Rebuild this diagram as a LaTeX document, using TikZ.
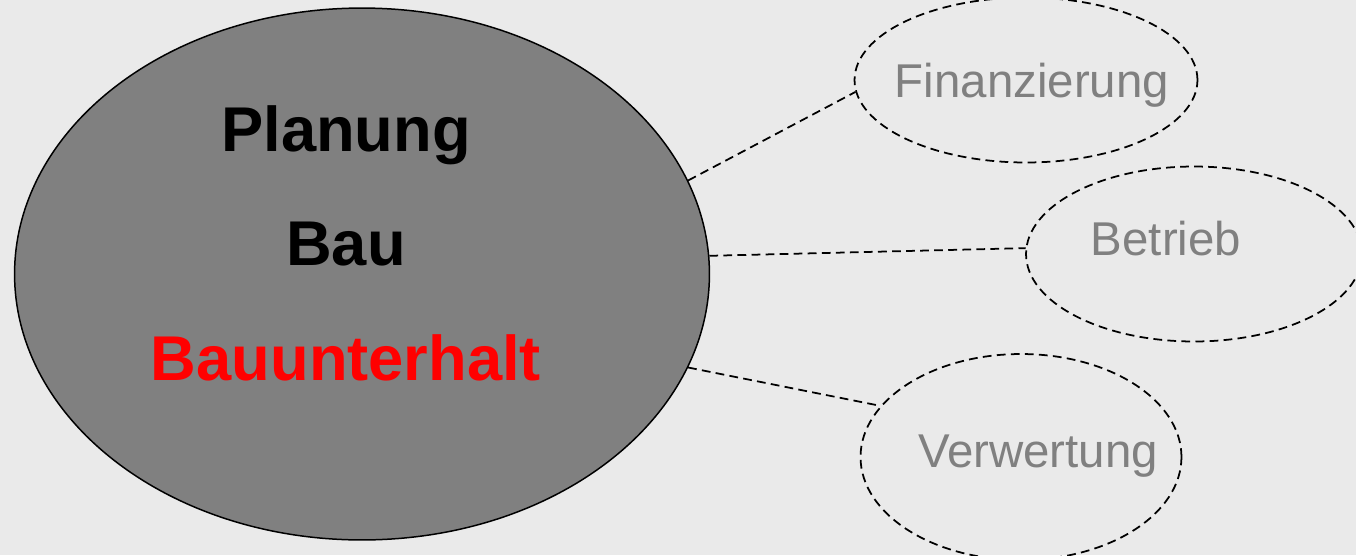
\documentclass[tikz,border=0pt]{standalone}
\usepackage{fontspec}
\setmainfont{Liberation Sans}
\usetikzlibrary{shapes.geometric}
\definecolor{hgrund}{RGB}{234,234,234}
\definecolor{kerngrau}{RGB}{128,128,128}
\newcommand{\grosstext}{\fontsize{36}{40}\selectfont\bfseries}
\newcommand{\kleintext}{\fontsize{27}{30}\selectfont}

\begin{document}
\begin{tikzpicture}[x=0.02cm,y=-0.02cm,
    oval/.style={ellipse,inner sep=0pt},
    verbindung/.style={dash pattern=on 5pt off 3pt,line width=1pt}]
    \fill[hgrund] (0,0) rectangle (1356,555);
    \useasboundingbox (0,0) rectangle (1356,555);
    \clip (0,0) rectangle (1356,555);

    \draw node at (362,274)[name=kern,oval,draw,fill=kerngrau,line width=0.85pt,
      minimum width=13.9cm,minimum height=10.64cm]{};
    \draw node at (346,151)[name=planung,anchor=base]{\grosstext Planung};
    \draw node at (346,265)[name=bau,anchor=base]{\grosstext Bau};
    \draw node at (346,380)[name=unterhalt,anchor=base,red]{\grosstext Bauunterhalt};

    \begin{scope}[verbindung]
    \draw node at (1026,80)[name=finanz,oval,draw,minimum width=6.86cm,minimum height=3.3cm]{};
    \draw node at (1194,254)[name=betrieb,oval,draw,minimum width=6.72cm,minimum height=3.5cm]{};
    \draw node at (1021,457)[name=verwert,oval,draw,minimum width=6.42cm,minimum height=4.12cm]{};
    \draw (kern.16.8) -- (finanz.184.4);
    \draw (kern.3) -- (betrieb.178);
    \draw (kern.-16.1) -- (verwert.160.4);
    \end{scope}

    \begin{scope}[kerngrau]
    \draw node at (1032,97)[name=finanzT,anchor=base]{\kleintext Finanzierung};
    \draw node at (1166,255)[name=betriebT,anchor=base]{\kleintext Betrieb};
    \draw node at (1038,467)[name=verwertT,anchor=base]{\kleintext Verwertung};
    \end{scope}
  \end{tikzpicture}
\end{document}
